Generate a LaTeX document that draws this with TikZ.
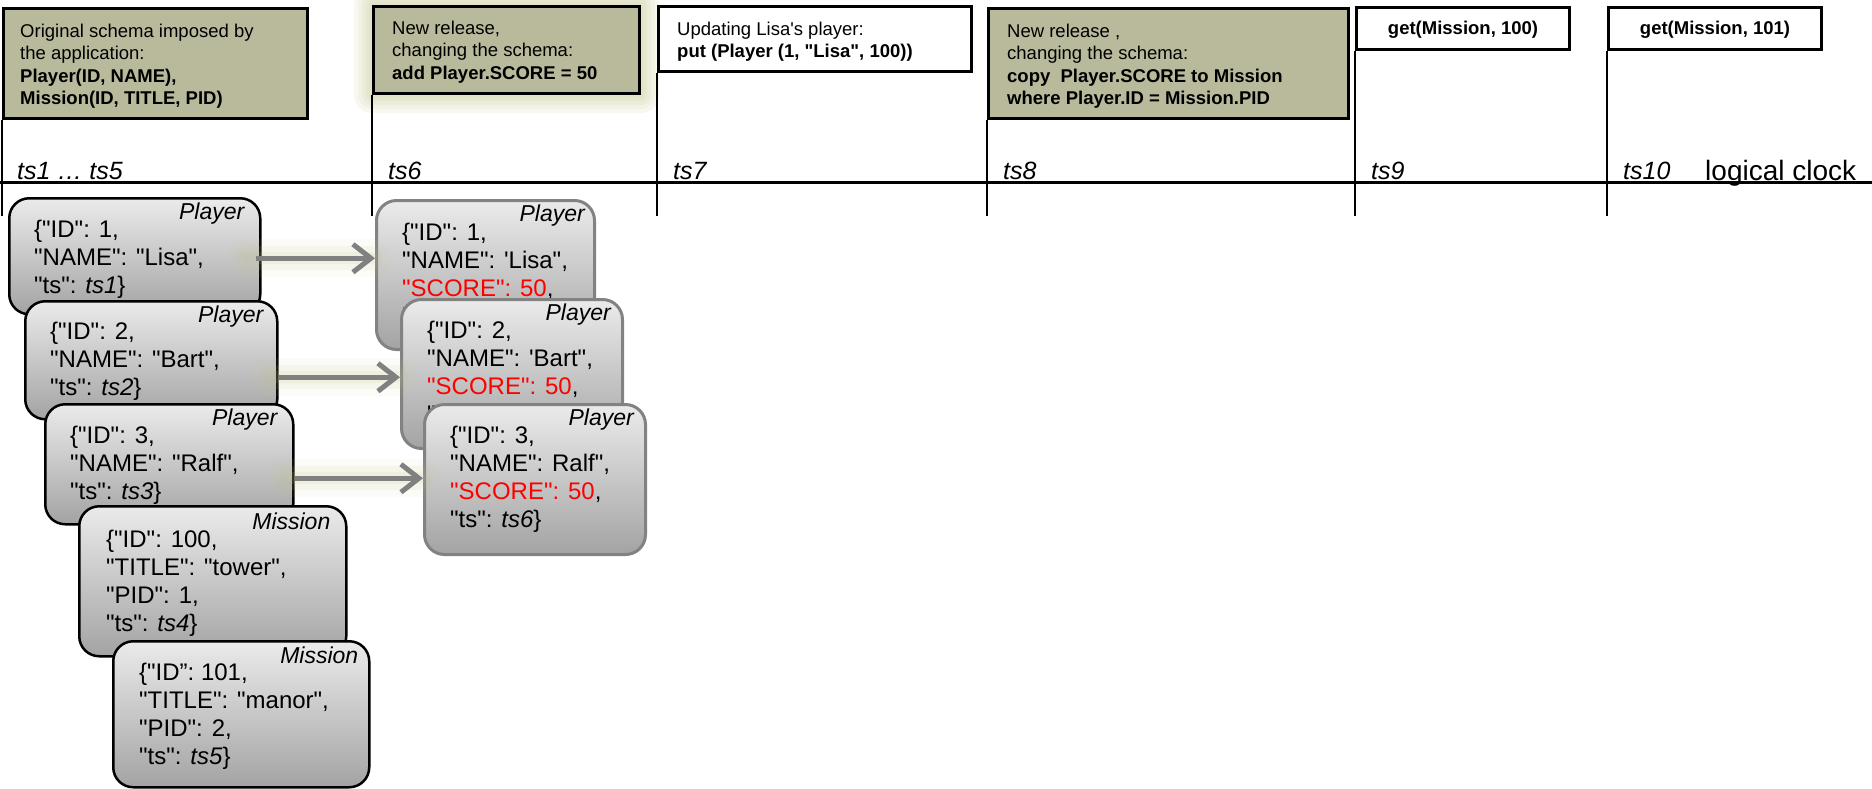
\documentclass[tikz,border=0pt]{standalone}
\usepackage{fontspec}
\setmainfont{Liberation Sans}[Ligatures=TeXOff]
\usetikzlibrary{arrows.meta,calc}

\definecolor{olivebox}{RGB}{185,186,156}
\definecolor{glowc}{RGB}{196,196,140}
\definecolor{recedge}{RGB}{130,130,130}
\definecolor{arrowgray}{RGB}{128,128,128}
\definecolor{scorered}{RGB}{255,0,0}

\pgfdeclarelayer{background}
\pgfsetlayers{background,main}

% multi-line texts are placed by the baseline of their last line
\tikzset{
  topbox/.style={draw=black, line width=3pt, fill=olivebox, anchor=north west, inner sep=0pt},
  whitebox/.style={topbox, fill=white},
  boxtext/.style={anchor=base west, align=left, inner sep=0pt, font=\fontsize{18.5}{22.5}\selectfont},
  tick/.style={line width=2.5pt},
  axis/.style={line width=3pt},
  tslabel/.style={anchor=base west, inner sep=0pt, font=\fontsize{25}{30}\selectfont\itshape},
  rec/.style={draw=black, line width=2.5pt, rounded corners=20pt, top color=black!8, bottom color=black!36, anchor=north west, inner sep=0pt},
  newrec/.style={rec, draw=recedge, line width=3pt},
  rectext/.style={anchor=base west, align=left, inner sep=0pt, font=\fontsize{24}{28}\selectfont},
  reclabel/.style={anchor=base east, inner sep=0pt, font=\fontsize{23}{27}\selectfont\itshape},
  flow/.style={draw=arrowgray, line width=5pt, -{Straight Barb[length=18pt, width=28pt]}},
  halo/.style={draw=glowc, line cap=round},
}

\begin{document}
\begin{tikzpicture}[x=1pt, y=-1pt]
\useasboundingbox (0,0) rectangle (1872,788);

% ---------- timeline boxes ----------
\node[topbox, minimum width=304pt, minimum height=110pt] (b1) at (2,7) {};
\node[boxtext] (b1t) at (20,104.5) {Original schema imposed by\\the application:\\\textbf{Player(ID, NAME),}\\\textbf{Mission(ID, TITLE, PID)}};

\node[topbox, minimum width=266pt, minimum height=87pt] (b2) at (372,5) {};
\node[boxtext] (b2t) at (392,79) {New release,\\changing the schema:\\\textbf{add Player.SCORE = 50}};

\node[whitebox, minimum width=313pt, minimum height=65pt] (b3) at (657,5) {};
\node[boxtext] (b3t) at (677,57.5) {Updating Lisa's player:\\\textbf{put (Player (1, "Lisa", 100))}};

\node[topbox, minimum width=360pt, minimum height=110pt] (b4) at (987,7) {};
\node[boxtext] (b4t) at (1007,104.5) {New release ,\\changing the schema:\\\textbf{copy\ \ Player.SCORE to Mission}\\\textbf{where Player.ID = Mission.PID}};

\node[whitebox, minimum width=213pt, minimum height=42pt] (b5) at (1355,6) {};
\node[boxtext, anchor=base] (b5t) at (b5.center |- 0,34) {\textbf{get(Mission, 100)}};

\node[whitebox, minimum width=213pt, minimum height=42pt] (b6) at (1607,6) {};
\node[boxtext, anchor=base] (b6t) at (b6.center |- 0,34) {\textbf{get(Mission, 101)}};

% soft halo round the second release box
\begin{pgfonlayer}{background}
  \foreach \s in {18,14,10,6,3}{
    \fill[glowc, opacity=0.12, rounded corners=\s pt]
      ($(b2.north west)+(-\s,-\s)$) rectangle ($(b2.south east)+(\s,\s)$);
  }
\end{pgfonlayer}

% ---------- logical clock ----------
\coordinate (base) at (0,216);
\coordinate (axL) at (0,182);
\coordinate (axR) at (1872,182);
\draw[axis] (axL) -- (axR);
\foreach \b in {b1,b2,b3,b4,b5,b6}{
  \draw[tick] (\b.south west) -- (\b.south west |- base);
}
\node[tslabel] (l1) at (17,179) {ts1 … ts5};
\node[tslabel] (l6) at (388,179) {ts6};
\node[tslabel] (l7) at (673,179) {ts7};
\node[tslabel] (l8) at (1003,179) {ts8};
\node[tslabel] (l9) at (1371,179) {ts9};
\node[tslabel] (l10) at (1623,179) {ts10};
\node[anchor=base west, inner sep=0pt, font=\fontsize{28}{32}\selectfont] (clk) at (1705,180) {logical clock};

% ---------- records written at ts1 ... ts5 ----------
\node[rec, minimum width=251pt, minimum height=116pt] (p1) at (8,197) {};
\node[reclabel] (p1l) at ($(p1.north east)+(-17,22)$) {Player};
\node[rectext] (p1t) at ($(p1.north west)+(26,96)$) {\{"ID": 1,\\"NAME": "Lisa",\\"ts": \textit{ts1}\}};

\node[rec, minimum width=252pt, minimum height=118pt] (p2) at (24,300) {};
\node[reclabel] (p2l) at ($(p2.north east)+(-15,22)$) {Player};
\node[rectext] (p2t) at ($(p2.north west)+(26,95)$) {\{"ID": 2,\\"NAME": "Bart",\\"ts": \textit{ts2}\}};

\node[rec, minimum width=248pt, minimum height=120pt] (p3) at (44,403) {};
\node[reclabel] (p3l) at ($(p3.north east)+(-17,22)$) {Player};
\node[rectext] (p3t) at ($(p3.north west)+(26,96)$) {\{"ID": 3,\\"NAME": "Ralf",\\"ts": \textit{ts3}\}};

\node[rec, minimum width=267pt, minimum height=150pt] (m1) at (78,505) {};
\node[reclabel] (m1l) at ($(m1.north east)+(-17,24)$) {Mission};
\node[rectext] (m1t) at ($(m1.north west)+(28,126)$) {\{"ID": 100,\\"TITLE": "tower",\\"PID": 1,\\"ts": \textit{ts4}\}};

\node[rec, minimum width=256pt, minimum height=146pt] (m2) at (112,640) {};
\node[reclabel] (m2l) at ($(m2.north east)+(-12,23)$) {Mission};
\node[rectext] (m2t) at ($(m2.north west)+(27,124)$) {\{"ID”: 101,\\"TITLE": "manor",\\"PID": 2,\\"ts": \textit{ts5}\}};

% ---------- records rewritten at ts6 ----------
\node[newrec, minimum width=218pt, minimum height=149pt] (r1) at (375,199) {};
\node[reclabel] (r1l) at ($(r1.north east)+(-11,22)$) {Player};
\node[rectext] (r1t) at ($(r1.north west)+(27,125)$) {\{"ID": 1,\\"NAME": 'Lisa",\\\textcolor{scorered}{"SCORE": 50},\\"ts": \textit{ts6}\}};

\node[newrec, minimum width=221pt, minimum height=149pt] (r2) at (400,298) {};
\node[reclabel] (r2l) at ($(r2.north east)+(-13,22)$) {Player};
\node[rectext] (r2t) at ($(r2.north west)+(27,124)$) {\{"ID": 2,\\"NAME": 'Bart",\\\textcolor{scorered}{"SCORE": 50},\\"ts": \textit{ts6}\}};

\node[newrec, minimum width=221pt, minimum height=150pt] (r3) at (423,403) {};
\node[reclabel] (r3l) at ($(r3.north east)+(-13,22)$) {Player};
\node[rectext] (r3t) at ($(r3.north west)+(27,124)$) {\{"ID": 3,\\"NAME": Ralf",\\\textcolor{scorered}{"SCORE": 50},\\"ts": \textit{ts6}\}};

% ---------- migration arrows ----------
\coordinate (s1) at ($(p1.east)+(-6,2)$);
\coordinate (s2) at ($(p2.east)+(0,17)$);
\coordinate (s3) at ($(p3.east)+(0,14)$);
\foreach \s/\r in {s1/r1,s2/r2,s3/r3}{
  \draw[halo, line width=38pt, opacity=0.07] ($(\s)+(-8,0)$) -- ($(\s -| \r.west)+(-4,0)$);
  \draw[halo, line width=24pt, opacity=0.10] ($(\s)+(-8,0)$) -- ($(\s -| \r.west)+(-4,0)$);
  \draw[halo, line width=12pt, opacity=0.12] ($(\s)+(-8,0)$) -- ($(\s -| \r.west)+(-4,0)$);
  \draw[flow] (\s) -- (\s -| \r.west);
}
\end{tikzpicture}
\end{document}
